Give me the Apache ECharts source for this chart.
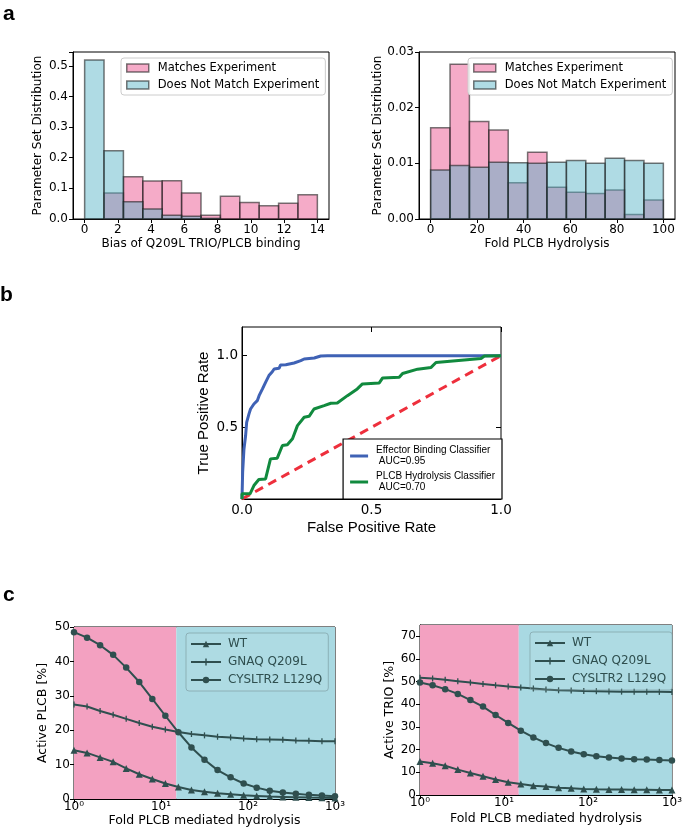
<!DOCTYPE html>
<html><head><meta charset="utf-8">
<script src="https://cdn.jsdelivr.net/npm/echarts@6/dist/echarts.min.js"></script>
<style>html,body{margin:0;padding:0;background:#fff}#c{width:685px;height:831px}</style>
</head><body><div id="c"></div>
<script>
// ---------- data ----------
// Panel a (left): Bias of Q209L TRIO/PLCB binding
const binEdgesBias = [0, 1.167, 2.333, 3.5, 4.667, 5.833, 7, 8.167, 9.333, 10.5, 11.667, 12.833, 14];
const biasMatches = [0, 0.085, 0.138, 0.124, 0.125, 0.085, 0.012, 0.074, 0.054, 0.043, 0.051, 0.079];
const biasNoMatch = [0.519, 0.223, 0.056, 0.033, 0.012, 0.009, 0.002, 0, 0, 0, 0, 0];
const biasTicks = [0, 2, 4, 6, 8, 10, 12, 14];
// Panel a (right): Fold PLCB Hydrolysis
const binEdgesFold = [0, 8.333, 16.667, 25, 33.333, 41.667, 50, 58.333, 66.667, 75, 83.333, 91.667, 100];
const foldMatches = [0.0164, 0.0278, 0.0175, 0.0160, 0.0065, 0.0120, 0.0057, 0.0048, 0.0046, 0.0052, 0.0008, 0.0034];
const foldNoMatch = [0.0088, 0.0096, 0.0093, 0.0102, 0.0101, 0.0100, 0.0102, 0.0105, 0.0100, 0.0109, 0.0105, 0.0100];
const foldTicks = [0, 20, 40, 60, 80, 100];
// Panel b: ROC curves
const effFpr = [0, 0.0025, 0.0076, 0.014, 0.018, 0.027, 0.033, 0.046, 0.059, 0.066, 0.079, 0.091, 0.104, 0.117, 0.124, 0.143, 0.149, 0.169, 0.201, 0.227, 0.240, 0.279, 0.304, 0.330, 1.0];
const effTpr = [0, 0.187, 0.349, 0.443, 0.535, 0.594, 0.628, 0.663, 0.686, 0.721, 0.768, 0.814, 0.861, 0.888, 0.907, 0.912, 0.935, 0.937, 0.949, 0.965, 0.977, 0.984, 0.998, 1.0, 1.0];
const hydFpr = [0, 0, 0.031, 0.046, 0.065, 0.091, 0.110, 0.136, 0.156, 0.175, 0.195, 0.214, 0.240, 0.259, 0.278, 0.317, 0.343, 0.368, 0.407, 0.445, 0.465, 0.530, 0.543, 0.607, 0.620, 0.678, 0.730, 0.749, 0.923, 0.936, 1.0];
const hydTpr = [0, 0.036, 0.036, 0.094, 0.136, 0.140, 0.280, 0.285, 0.373, 0.378, 0.420, 0.512, 0.570, 0.577, 0.628, 0.651, 0.668, 0.670, 0.721, 0.768, 0.803, 0.810, 0.845, 0.849, 0.876, 0.906, 0.918, 0.952, 0.980, 0.998, 1.0];
const chanceFpr = [0, 1];
const chanceTpr = [0, 1];
const rocTicksX = [0, 0.5, 1];
const rocTicksY = [0, 0.5, 1];
// Panel c: fold PLCB mediated hydrolysis
const foldHydrolysis = [1, 1.413, 1.995, 2.818, 3.981, 5.623, 7.943, 11.22, 15.85, 22.39, 31.62, 44.67, 63.10, 89.13, 125.9, 177.8, 251.2, 354.8, 501.2, 707.9, 1000];
const threshold = 15;
const plcbWT = [14.2, 13.4, 12.1, 10.8, 8.9, 7.2, 5.8, 4.5, 3.5, 2.6, 2.1, 1.7, 1.4, 1.1, 0.9, 0.7, 0.6, 0.5, 0.4, 0.35, 0.3];
const plcbGNAQ = [27.5, 26.9, 25.6, 24.5, 23.3, 22.1, 21.0, 20.2, 19.5, 18.9, 18.5, 18.1, 17.9, 17.6, 17.4, 17.3, 17.2, 17.0, 16.9, 16.8, 16.8];
const plcbCYS = [48.5, 46.9, 44.7, 41.9, 38.2, 34.0, 29.1, 24.2, 19.4, 15.0, 11.4, 8.4, 6.3, 4.5, 3.3, 2.4, 1.9, 1.5, 1.2, 1.0, 0.8];
const trioWT = [14.8, 14.0, 12.9, 11.2, 9.7, 8.3, 6.8, 5.6, 4.9, 4.1, 3.7, 3.2, 3.0, 2.7, 2.5, 2.4, 2.4, 2.3, 2.3, 2.2, 2.2];
const trioGNAQ = [51.7, 51.4, 50.8, 50.2, 49.6, 49.0, 48.4, 47.9, 47.4, 47.0, 46.5, 46.2, 46.1, 45.9, 45.8, 45.7, 45.6, 45.6, 45.5, 45.5, 45.4];
const trioCYS = [49.6, 48.4, 46.7, 44.6, 41.9, 39.0, 35.3, 31.8, 28.4, 25.4, 22.9, 20.8, 19.2, 18.0, 17.1, 16.5, 16.1, 15.8, 15.7, 15.4, 15.2];
const plcbYTicks = [0, 10, 20, 30, 40, 50];
const trioYTicks = [0, 10, 20, 30, 40, 50, 60, 70];

// ---------- styles ----------
const FONT = 'DejaVu Sans';
const FONT_B = 'Liberation Sans';
const pinkFill = 'rgba(235,80,140,0.48)';
const cyanFill = 'rgba(84,178,198,0.47)';
const edge = 'rgba(30,30,30,0.6)';
const slate = '#2f4f4f';
const plusLineIcon = 'path://M0,3 L30,3 L30,5 L0,5 Z M14.3,0.5 L15.7,0.5 L15.7,7.5 L14.3,7.5 Z';

function histData(edges, vals) { return vals.map((v, i) => [edges[i], edges[i + 1], v]); }
function histRender(fill) {
  return function (params, api) {
    const h = api.value(2);
    if (!(h > 0)) return null;
    const p0 = api.coord([api.value(0), h]);
    const p1 = api.coord([api.value(1), 0]);
    return { type: 'rect', shape: { x: p0[0], y: p0[1], width: p1[0] - p0[0], height: p1[1] - p0[1] },
      style: { fill: fill, stroke: edge, lineWidth: 1.5 } };
  };
}
const sup = {0: '\u2070', 1: '\u00b9', 2: '\u00b2', 3: '\u00b3'};
function logFmt(v) { const e = Math.round(Math.log10(v)); return '10' + sup[e]; }
function near(v, arr) { return arr.some(t => Math.abs(t - v) < 1e-9); }

const baseAxisLine = { show: true, onZero: false, lineStyle: { color: '#000', width: 1 } };
const noAxisLine = { show: false, onZero: false };
const outTick = { show: true, inside: false, length: 4, lineStyle: { color: '#000' } };
const inTick = { show: true, inside: true, length: 5, lineStyle: { color: '#000' } };
const lbl = (size, fam) => ({ color: '#000', fontFamily: fam || FONT, fontSize: size });
const nameStyle = (size, fam) => ({ color: '#000', fontFamily: fam || FONT, fontSize: size });

const chart = echarts.init(document.getElementById('c'), null, { renderer: 'canvas' });

const grids = [
  { left: 73, top: 52, width: 256, height: 167 },
  { left: 419, top: 52, width: 256, height: 167 },
  { left: 242, top: 327, width: 259, height: 172 },
  { left: 74, top: 627, width: 261, height: 172 },
  { left: 420, top: 625, width: 255, height: 170 }
].map(g => Object.assign({ show: true, borderColor: '#000', borderWidth: 1, backgroundColor: 'transparent', containLabel: false }, g));

const legendA = (left) => ({
  left: left, top: 58, orient: 'vertical', itemWidth: 22, itemHeight: 8, itemGap: 5,
  padding: [4, 6, 4, 5], backgroundColor: 'rgba(255,255,255,0.85)', borderColor: '#ccc', borderWidth: 1, borderRadius: 3,
  textStyle: { fontFamily: FONT, fontSize: 11.5, color: '#000', padding: [0, 0, 0, 4] },
  data: [
    { name: 'Matches Experiment', icon: 'rect', itemStyle: { color: pinkFill, borderColor: edge, borderWidth: 1.5 } },
    { name: 'Does Not Match Experiment', icon: 'rect', itemStyle: { color: cyanFill, borderColor: edge, borderWidth: 1.5 } }
  ]
});
const legendC = (left, top) => ({
  left: left, top: top, orient: 'vertical', itemWidth: 30, itemHeight: 8, itemGap: 6,
  padding: [5, 6, 5, 4], backgroundColor: 'rgba(255,255,255,0.06)', borderColor: 'rgba(120,150,155,0.6)', borderWidth: 1, borderRadius: 3,
  textStyle: { fontFamily: FONT, fontSize: 12, color: slate, padding: [0, 0, 0, 2] },
  data: ['WT', { name: 'GNAQ Q209L', icon: plusLineIcon, itemStyle: { color: slate } }, 'CYSLTR2 L129Q']
});

const option = {
  animation: false,
  backgroundColor: '#fff',
  grid: grids,
  graphic: [
    { type: 'text', left: 3, top: 4, style: { text: 'a', font: 'bold 21px "Liberation Sans"', fill: '#000' } },
    { type: 'text', left: 0, top: 285, style: { text: 'b', font: 'bold 21px "Liberation Sans"', fill: '#000' } },
    { type: 'text', left: 3, top: 585, style: { text: 'c', font: 'bold 21px "Liberation Sans"', fill: '#000' } }
  ],
  legend: [
    legendA(121),
    legendA(468),
    {
      right: 684 - 501, bottom: 831 - 499, orient: 'vertical', itemWidth: 18, itemHeight: 3, itemGap: 4,
      padding: [6, 7, 6, 7], backgroundColor: '#fff', borderColor: '#000', borderWidth: 1.2, borderRadius: 0,
      textStyle: { fontFamily: FONT_B, fontSize: 10, color: '#000', lineHeight: 11, padding: [0, 0, 0, 3] },
      data: [
        { name: 'Effector Binding Classifier\n AUC=0.95', icon: 'rect', itemStyle: { color: '#3f62b5' } },
        { name: 'PLCB Hydrolysis Classifier\n AUC=0.70', icon: 'rect', itemStyle: { color: '#118a3e' } }
      ]
    },
    legendC(186, 633),
    legendC(530, 632)
  ],
  xAxis: [
    { gridIndex: 0, type: 'value', min: -0.7, max: 14.7, axisLine: baseAxisLine, axisTick: Object.assign({ customValues: biasTicks }, outTick), splitLine: { show: false },
      axisLabel: Object.assign({ customValues: biasTicks, margin: 5, formatter: v => near(v, biasTicks) ? String(v) : '' }, lbl(12)),
      name: 'Bias of Q209L TRIO/PLCB binding', nameLocation: 'middle', nameGap: 19, nameTextStyle: Object.assign({ verticalAlign: 'top' }, nameStyle(12)) },
    { gridIndex: 1, type: 'value', min: -5, max: 105, axisLine: baseAxisLine, axisTick: Object.assign({ customValues: foldTicks }, outTick), splitLine: { show: false },
      axisLabel: Object.assign({ customValues: foldTicks, margin: 5, formatter: v => near(v, foldTicks) ? String(v) : '' }, lbl(12)),
      name: 'Fold PLCB Hydrolysis', nameLocation: 'middle', nameGap: 19, nameTextStyle: Object.assign({ verticalAlign: 'top' }, nameStyle(12)) },
    { gridIndex: 2, type: 'value', min: 0, max: 1, interval: 0.5, axisLine: baseAxisLine, axisTick: Object.assign({ customValues: rocTicksX }, inTick), splitLine: { show: false },
      axisLabel: Object.assign({ margin: 4, formatter: v => v.toFixed(1) }, lbl(13.5)),
      name: 'False Positive Rate', nameLocation: 'middle', nameGap: 21, nameTextStyle: Object.assign({ verticalAlign: 'top' }, nameStyle(15, FONT_B)) },
    { gridIndex: 2, type: 'value', position: 'top', min: 0, max: 1, interval: 0.5, axisLine: noAxisLine, axisTick: Object.assign({ customValues: rocTicksX }, inTick), axisLabel: { show: false }, splitLine: { show: false } },
    { gridIndex: 3, type: 'log', logBase: 10, min: 1, max: 1000, axisLine: baseAxisLine, axisTick: outTick, splitLine: { show: false },
      axisLabel: Object.assign({ margin: 2, formatter: logFmt }, lbl(12)),
      name: 'Fold PLCB mediated hydrolysis', nameLocation: 'middle', nameGap: 13.5, nameTextStyle: Object.assign({ verticalAlign: 'top' }, nameStyle(12.5)) },
    { gridIndex: 4, type: 'log', logBase: 10, min: 1, max: 1000, axisLine: baseAxisLine, axisTick: outTick, splitLine: { show: false },
      axisLabel: Object.assign({ margin: 2, formatter: logFmt }, lbl(12)),
      name: 'Fold PLCB mediated hydrolysis', nameLocation: 'middle', nameGap: 17.5, nameTextStyle: Object.assign({ verticalAlign: 'top' }, nameStyle(12.5)) }
  ],
  yAxis: [
    { gridIndex: 0, type: 'value', min: 0, max: 0.545, interval: 0.1, axisLine: baseAxisLine, axisTick: outTick, splitLine: { show: false },
      axisLabel: Object.assign({ margin: 5, formatter: v => (Math.abs(v * 10 - Math.round(v * 10)) < 1e-6 ? v.toFixed(1) : '') }, lbl(12)),
      name: 'Parameter Set Distribution', nameLocation: 'middle', nameGap: 29, nameTextStyle: nameStyle(12) },
    { gridIndex: 1, type: 'value', min: 0, max: 0.03, interval: 0.01, axisLine: baseAxisLine, axisTick: outTick, splitLine: { show: false },
      axisLabel: Object.assign({ margin: 5, formatter: v => v.toFixed(2) }, lbl(12)),
      name: 'Parameter Set Distribution', nameLocation: 'middle', nameGap: 34.5, nameTextStyle: nameStyle(12) },
    { gridIndex: 2, type: 'value', min: 0, max: 1.2, interval: 0.5, axisLine: baseAxisLine, axisTick: Object.assign({ customValues: rocTicksY }, inTick), splitLine: { show: false },
      axisLabel: Object.assign({ margin: 4, customValues: [0.5, 1], formatter: v => (v === 0.5 || v === 1) ? v.toFixed(1) : '' }, lbl(13.5)),
      name: 'True Positive Rate', nameLocation: 'middle', nameGap: 31, nameTextStyle: nameStyle(15, FONT_B) },
    { gridIndex: 2, type: 'value', position: 'right', min: 0, max: 1.2, interval: 0.5, axisLine: noAxisLine, axisTick: Object.assign({ customValues: rocTicksY }, inTick), axisLabel: { show: false }, splitLine: { show: false } },
    { gridIndex: 3, type: 'value', min: 0, max: 50, interval: 10, axisLine: baseAxisLine, axisTick: outTick, splitLine: { show: false },
      axisLabel: Object.assign({ margin: 4 }, lbl(12)),
      name: 'Active PLCB [%]', nameLocation: 'middle', nameGap: 24.5, nameTextStyle: nameStyle(12.5) },
    { gridIndex: 4, type: 'value', min: 0, max: 75, interval: 10, axisLine: baseAxisLine, axisTick: Object.assign({ customValues: trioYTicks }, outTick), splitLine: { show: false },
      axisLabel: Object.assign({ margin: 4, customValues: trioYTicks, formatter: v => near(v, trioYTicks) ? String(v) : '' }, lbl(12)),
      name: 'Active TRIO [%]', nameLocation: 'middle', nameGap: 23.5, nameTextStyle: nameStyle(12.5) }
  ],
  series: [
    { name: 'Matches Experiment', type: 'custom', xAxisIndex: 0, yAxisIndex: 0, renderItem: histRender(pinkFill), encode: { x: [0, 1], y: 2 }, data: histData(binEdgesBias, biasMatches), itemStyle: { color: pinkFill }, z: 2 },
    { name: 'Does Not Match Experiment', type: 'custom', xAxisIndex: 0, yAxisIndex: 0, renderItem: histRender(cyanFill), encode: { x: [0, 1], y: 2 }, data: histData(binEdgesBias, biasNoMatch), itemStyle: { color: cyanFill }, z: 3 },
    { name: 'Matches Experiment', type: 'custom', xAxisIndex: 1, yAxisIndex: 1, renderItem: histRender(pinkFill), encode: { x: [0, 1], y: 2 }, data: histData(binEdgesFold, foldMatches), itemStyle: { color: pinkFill }, z: 2 },
    { name: 'Does Not Match Experiment', type: 'custom', xAxisIndex: 1, yAxisIndex: 1, renderItem: histRender(cyanFill), encode: { x: [0, 1], y: 2 }, data: histData(binEdgesFold, foldNoMatch), itemStyle: { color: cyanFill }, z: 3 },

    { name: 'chance', type: 'line', xAxisIndex: 2, yAxisIndex: 2, data: chanceFpr.map((x, i) => [x, chanceTpr[i]]), symbol: 'none', lineStyle: { color: '#ee2f3c', width: 3, type: [9, 6] }, z: 2 },
    { name: 'Effector Binding Classifier\n AUC=0.95', type: 'line', xAxisIndex: 2, yAxisIndex: 2, data: effFpr.map((x, i) => [x, effTpr[i]]), symbol: 'none', lineStyle: { color: '#3f62b5', width: 3 }, itemStyle: { color: '#3f62b5' }, z: 3 },
    { name: 'PLCB Hydrolysis Classifier\n AUC=0.70', type: 'line', xAxisIndex: 2, yAxisIndex: 2, data: hydFpr.map((x, i) => [x, hydTpr[i]]), symbol: 'none', lineStyle: { color: '#118a3e', width: 3 }, itemStyle: { color: '#118a3e' }, z: 3 },

    { name: 'bgPLCB', type: 'line', xAxisIndex: 4, yAxisIndex: 4, data: [], silent: true,
      markArea: { silent: true, data: [
        [{ xAxis: 1, itemStyle: { color: '#f3a1c1', opacity: 1 } }, { xAxis: threshold }],
        [{ xAxis: threshold, itemStyle: { color: '#a9d9e2', opacity: 1 } }, { xAxis: 1000 }]
      ] }, z: 0 },
    { name: 'WT', type: 'line', xAxisIndex: 4, yAxisIndex: 4, data: foldHydrolysis.map((x, i) => [x, plcbWT[i]]), symbol: 'triangle', symbolSize: 7, lineStyle: { color: slate, width: 2 }, itemStyle: { color: slate }, z: 3 },
    { name: 'GNAQ Q209L', type: 'line', xAxisIndex: 4, yAxisIndex: 4, data: foldHydrolysis.map((x, i) => [x, plcbGNAQ[i]]), symbol: 'rect', symbolSize: [1.3, 6], lineStyle: { color: slate, width: 2 }, itemStyle: { color: slate }, z: 3 },
    { name: 'CYSLTR2 L129Q', type: 'line', xAxisIndex: 4, yAxisIndex: 4, data: foldHydrolysis.map((x, i) => [x, plcbCYS[i]]), symbol: 'circle', symbolSize: 6.5, lineStyle: { color: slate, width: 2 }, itemStyle: { color: slate }, z: 3 },

    { name: 'bgTRIO', type: 'line', xAxisIndex: 5, yAxisIndex: 5, data: [], silent: true,
      markArea: { silent: true, data: [
        [{ xAxis: 1, itemStyle: { color: '#f3a1c1', opacity: 1 } }, { xAxis: threshold }],
        [{ xAxis: threshold, itemStyle: { color: '#a9d9e2', opacity: 1 } }, { xAxis: 1000 }]
      ] }, z: 0 },
    { name: 'WT', type: 'line', xAxisIndex: 5, yAxisIndex: 5, data: foldHydrolysis.map((x, i) => [x, trioWT[i]]), symbol: 'triangle', symbolSize: 7, lineStyle: { color: slate, width: 2 }, itemStyle: { color: slate }, z: 3 },
    { name: 'GNAQ Q209L', type: 'line', xAxisIndex: 5, yAxisIndex: 5, data: foldHydrolysis.map((x, i) => [x, trioGNAQ[i]]), symbol: 'rect', symbolSize: [1.3, 6], lineStyle: { color: slate, width: 2 }, itemStyle: { color: slate }, z: 3 },
    { name: 'CYSLTR2 L129Q', type: 'line', xAxisIndex: 5, yAxisIndex: 5, data: foldHydrolysis.map((x, i) => [x, trioCYS[i]]), symbol: 'circle', symbolSize: 6.5, lineStyle: { color: slate, width: 2 }, itemStyle: { color: slate }, z: 3 }
  ]
};
chart.setOption(option);
</script></body></html>
